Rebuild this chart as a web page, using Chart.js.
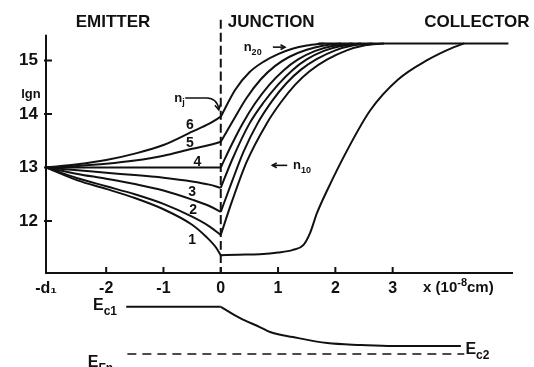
<!DOCTYPE html>
<html>
<head>
<meta charset="utf-8">
<script src="https://cdn.jsdelivr.net/npm/chart.js@4.4.0/dist/chart.umd.min.js"></script>
<style>
  html, body { margin: 0; padding: 0; background: #fff; }
</style>
</head>
<body>
<canvas id="chart" width="534" height="367"></canvas>
<script>
// axis ranges (x in 10^-8 cm, y = lg n)
const xMin = -3.05, xMax = 5.17;
const yMin = 9.271, yMax = 16.131;
const axisBase = 11.03, yAxisTop = 15.48, xAxisEnd = 5.1;
const xTickVals = [-3.05, -2, -1, 0, 1, 2, 3];
const yTickVals = [12, 13, 14, 15];

// emitter side, curves 6..1 and 0 (equilibrium)
const emitX = [-3.05, -2.5, -2, -1.5, -1, -0.5, -0.2, 0];
const emit6 = [13, 13.06, 13.14, 13.26, 13.42, 13.67, 13.82, 13.95];
const emit5 = [13, 13.03, 13.07, 13.13, 13.22, 13.35, 13.42, 13.48];
const emit4 = [13, 13, 13, 13, 13, 13, 13, 13];
const emit3 = [13, 12.95, 12.9, 12.86, 12.81, 12.74, 12.68, 12.62];
const emit2 = [13, 12.88, 12.79, 12.69, 12.57, 12.4, 12.28, 12.17];
const emit1 = [13, 12.8, 12.65, 12.5, 12.32, 12.08, 11.9, 11.74];
const emit0X = [-3.05, -2.5, -2, -1.5, -1, -0.5, -0.25, -0.08, 0];
const emit0 = [13, 12.76, 12.6, 12.43, 12.22, 11.93, 11.7, 11.5, 11.36];

// collector side
const coll6X = [0, 0.25, 0.5, 0.75, 1.0, 1.25, 1.5, 1.8];
const coll6 = [13.95, 14.45, 14.78, 14.98, 15.12, 15.22, 15.28, 15.32];
const coll5X = [0, 0.2, 0.45, 0.7, 0.95, 1.2, 1.5, 1.8, 2.1];
const coll5 = [13.48, 13.85, 14.3, 14.65, 14.9, 15.07, 15.2, 15.28, 15.32];
const coll4X = [0, 0.2, 0.38, 0.6, 0.85, 1.1, 1.35, 1.65, 1.95, 2.3];
const coll4 = [13.0, 13.45, 13.82, 14.2, 14.55, 14.82, 15.02, 15.18, 15.27, 15.32];
const coll3X = [0, 0.2, 0.5, 0.75, 1.0, 1.25, 1.5, 1.8, 2.1, 2.45];
const coll3 = [12.62, 13.15, 13.82, 14.22, 14.55, 14.82, 15.02, 15.18, 15.27, 15.32];
const coll2X = [0, 0.2, 0.4, 0.64, 0.9, 1.15, 1.4, 1.68, 2.0, 2.3, 2.65];
const coll2 = [12.17, 12.75, 13.3, 13.82, 14.25, 14.58, 14.83, 15.03, 15.19, 15.28, 15.32];
const coll1X = [0, 0.2, 0.45, 0.8, 1.05, 1.3, 1.55, 1.86, 2.2, 2.5, 2.85];
const coll1 = [11.74, 12.38, 13.1, 13.82, 14.22, 14.55, 14.8, 15.02, 15.19, 15.28, 15.32];
const n10X = [0, 0.3, 0.68, 1.0, 1.26, 1.44, 1.56, 1.68, 1.86, 2.21, 2.61, 3.09, 3.61, 4.07, 4.25];
const n10 = [11.36, 11.37, 11.38, 11.41, 11.46, 11.55, 11.78, 12.15, 12.58, 13.33, 14.07, 14.64, 15.01, 15.25, 15.32];
const n20X = [1.7, 5.02];
const n20 = [15.32, 15.32];
const junctionX = [0, 0];
const junctionY = [15.76, axisBase];

// band edges below the plot (energy, EFn = 0)
const ec1X = [-1.65, 0];
const ec1 = [0.35, 0.35];
const ecX = [0, 0.33, 0.68, 0.86, 1.26, 1.86, 2.45, 3.0, 4.19];
const ec = [0.35, 0.267, 0.2, 0.163, 0.126, 0.081, 0.067, 0.059, 0.059];
const efnX = [-1.63, 4.25];
const efn = [0, 0];
const eMin = -0.096, eMax = 2.622;

// curve numbers
const curveTags = ['6', '5', '4', '3', '2', '1'];
const tagX = [-0.54, -0.54, -0.41, -0.5, -0.48, -0.5];
const tagY = [13.79, 13.46, 13.1, 12.54, 12.21, 11.64];

const INK = '#111';
const FONT = '"Liberation Sans", Arial, sans-serif';

const pts = (xs, ys) => xs.map((v, i) => ({ x: v, y: ys[i] }));
const curve = (xs, ys, extra) => Object.assign({
  data: pts(xs, ys), borderColor: INK, borderWidth: 2, pointRadius: 0,
  cubicInterpolationMode: 'monotone', fill: false
}, extra || {});

const datasets = [
  curve(emitX, emit6), curve(emitX, emit5), curve(emitX, emit4),
  curve(emitX, emit3), curve(emitX, emit2), curve(emitX, emit1),
  curve(emit0X, emit0),
  curve(coll6X, coll6), curve(coll5X, coll5), curve(coll4X, coll4),
  curve(coll3X, coll3), curve(coll2X, coll2), curve(coll1X, coll1),
  curve(n10X, n10), curve(n20X, n20),
  curve(junctionX, junctionY, { borderDash: [9, 4] }),
  curve(ec1X, ec1, { yAxisID: 'yE' }),
  curve(ecX, ec, { yAxisID: 'yE' }),
  curve(efnX, efn, { yAxisID: 'yE', borderDash: [9, 6], borderWidth: 1.5 })
];

function text(ctx, str, x, y, size, align) {
  ctx.font = 'bold ' + size + 'px ' + FONT;
  ctx.textAlign = align || 'center';
  ctx.textBaseline = 'middle';
  ctx.fillText(str, x, y);
}

// letter with a lowered index, e.g. n_j, E_c1
function subbed(ctx, main, sub, x, y, size) {
  ctx.font = 'bold ' + size + 'px ' + FONT;
  ctx.textAlign = 'left';
  ctx.textBaseline = 'middle';
  ctx.fillText(main, x, y);
  const w = ctx.measureText(main).width;
  ctx.font = 'bold ' + Math.round(size * 0.72) + 'px ' + FONT;
  ctx.fillText(sub, x + w, y + size * 0.38);
}

function arrowHead(ctx, x, y, dx, dy, s) {
  const a = Math.atan2(dy, dx);
  ctx.beginPath();
  ctx.moveTo(x - s * Math.cos(a - 0.5), y - s * Math.sin(a - 0.5));
  ctx.lineTo(x, y);
  ctx.lineTo(x - s * Math.cos(a + 0.5), y - s * Math.sin(a + 0.5));
  ctx.stroke();
}

// keep the plot area flush with the canvas edges
function noPad(s) {
  s.paddingTop = 0; s.paddingBottom = 0;
  s.paddingLeft = 0; s.paddingRight = 0;
}

const decor = {
  id: 'decor',
  afterDraw(chart) {
    const { ctx, scales } = chart;
    const X = v => scales.x.getPixelForValue(v);
    const Y = v => scales.y.getPixelForValue(v);
    const YE = v => scales.yE.getPixelForValue(v);
    ctx.save();
    ctx.strokeStyle = INK;
    ctx.fillStyle = INK;
    ctx.lineWidth = 2;
    ctx.lineCap = 'butt';

    // axes with inward ticks
    const x0 = X(xMin), yb = Y(axisBase);
    ctx.beginPath();
    ctx.moveTo(x0, Y(yAxisTop));
    ctx.lineTo(x0, yb);
    ctx.lineTo(X(xAxisEnd), yb);
    yTickVals.forEach(v => { ctx.moveTo(x0 - 2, Y(v)); ctx.lineTo(x0 + 6, Y(v)); });
    xTickVals.slice(1).forEach(v => { ctx.moveTo(X(v), yb); ctx.lineTo(X(v), yb - 6); });
    ctx.stroke();

    // region headings
    text(ctx, 'EMITTER', X(-1.88), Y(15.72), 17);
    text(ctx, 'JUNCTION', X(0.88), Y(15.72), 17);
    text(ctx, 'COLLECTOR', X(4.47), Y(15.72), 17);

    text(ctx, 'lgn', x0 - 15, Y(14.37), 13);
    curveTags.forEach((t, i) => text(ctx, t, X(tagX[i]), Y(tagY[i]), 14));

    // n_j with bent arrow onto the junction line
    subbed(ctx, 'n', 'j', X(-0.81), Y(14.3), 13);
    const jx = X(0) - 2, jy = Y(14.3);
    ctx.lineWidth = 1.6;
    ctx.beginPath();
    ctx.moveTo(X(-0.62), jy);
    ctx.lineTo(jx - 12, jy);
    ctx.quadraticCurveTo(jx - 2, jy, jx, jy + 11);
    ctx.stroke();
    arrowHead(ctx, jx, jy + 12, 0.2, 1, 6);

    // n20 ->
    subbed(ctx, 'n', '20', X(0.4), Y(15.25), 13);
    ctx.beginPath();
    ctx.moveTo(X(0.91), Y(15.25)); ctx.lineTo(X(1.12), Y(15.25));
    ctx.stroke();
    arrowHead(ctx, X(1.12), Y(15.25), 1, 0, 5);

    // <- n10
    ctx.beginPath();
    ctx.moveTo(X(0.9), Y(13.04)); ctx.lineTo(X(1.16), Y(13.04));
    ctx.stroke();
    arrowHead(ctx, X(0.9), Y(13.04), -1, 0, 5);
    subbed(ctx, 'n', '10', X(1.26), Y(13.04), 13);

    // x unit label
    const ux = X(3.53), uy = yb + 15;
    ctx.font = 'bold 15px ' + FONT;
    ctx.textAlign = 'left';
    ctx.textBaseline = 'middle';
    ctx.fillText('x (10', ux, uy);
    let w = ctx.measureText('x (10').width;
    ctx.font = 'bold 11px ' + FONT;
    ctx.fillText('-8', ux + w, uy - 5);
    w += ctx.measureText('-8').width;
    ctx.font = 'bold 15px ' + FONT;
    ctx.fillText('cm)', ux + w, uy);

    // band labels
    subbed(ctx, 'E', 'c1', X(-2.23), YE(0.36), 16);
    subbed(ctx, 'E', 'Fn', X(-2.32), YE(-0.06), 16);
    subbed(ctx, 'E', 'c2', X(4.27), YE(0.035), 16);
    ctx.restore();
  }
};

new Chart(document.getElementById('chart'), {
  type: 'line',
  data: { datasets },
  plugins: [decor],
  options: {
    responsive: false,
    animation: false,
    devicePixelRatio: 1,
    layout: { padding: { left: 0, right: 17, top: 0, bottom: 0 } },
    plugins: { legend: { display: false }, tooltip: { enabled: false } },
    scales: {
      x: {
        type: 'linear', min: xMin, max: xMax,
        position: { y: axisBase },
        grid: { display: false, drawTicks: false },
        border: { display: false },
        afterBuildTicks: s => { s.ticks = xTickVals.map(v => ({ value: v })); },
        afterFit: s => { s.height = 0; noPad(s); },
        ticks: {
          color: INK, padding: 6,
          font: { family: FONT, size: 16, weight: 'bold' },
          callback: v => (v === xMin ? '-d\u2081' : String(v))
        }
      },
      y: {
        type: 'linear', min: yMin, max: yMax,
        grid: { display: false, drawTicks: false },
        border: { display: false },
        afterBuildTicks: s => { s.ticks = yTickVals.map(v => ({ value: v })); },
        afterFit: s => { s.width = 46; noPad(s); },
        ticks: {
          color: INK, padding: 8,
          font: { family: FONT, size: 17, weight: 'bold' }
        }
      },
      yE: {
        type: 'linear', min: eMin, max: eMax, display: false
      }
    }
  }
});
</script>
</body>
</html>
